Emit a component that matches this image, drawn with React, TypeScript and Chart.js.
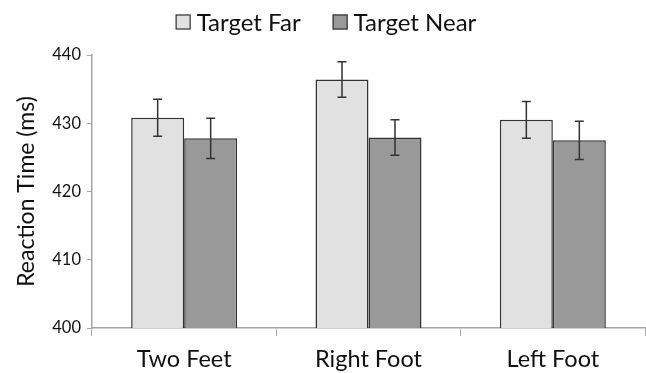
import React, { useEffect, useRef } from "react";
import { Chart, registerables } from "chart.js";

Chart.register(...registerables);

const categories = ["Two Feet", "Right Foot", "Left Foot"];
const seriesNames = ["Target Far", "Target Near"];
const farValues = [430.8, 436.4, 430.5];
const nearValues = [427.8, 427.9, 427.5];
const farErrors = [2.7, 2.6, 2.7];
const nearErrors = [2.95, 2.6, 2.8];
const yTicks = [400, 410, 420, 430, 440];
const seriesColors = ["#e1e1e1", "#999999"];

const FONT = "Lato, 'Open Sans', sans-serif";
const TEXT = "#111111";

const errorBarPlugin = {
  id: "errorBars",
  afterDatasetsDraw(chart: any) {
    const ctx = chart.ctx;
    const yScale = chart.scales.y;
    chart.data.datasets.forEach((ds: any, di: number) => {
      const meta = chart.getDatasetMeta(di);
      const errs: number[] = ds.errors || [];
      meta.data.forEach((bar: any, i: number) => {
        const v = ds.data[i];
        const e = errs[i];
        const x = bar.x;
        const yTop = yScale.getPixelForValue(v + e);
        const yBot = yScale.getPixelForValue(v - e);
        ctx.save();
        ctx.strokeStyle = "#333333";
        ctx.lineWidth = 1.5;
        ctx.beginPath();
        ctx.moveTo(x, yTop);
        ctx.lineTo(x, yBot);
        ctx.moveTo(x - 4.5, yTop);
        ctx.lineTo(x + 4.5, yTop);
        ctx.moveTo(x - 4.5, yBot);
        ctx.lineTo(x + 4.5, yBot);
        ctx.stroke();
        ctx.restore();
      });
    });
  },
};

const legendPlugin = {
  id: "customLegend",
  afterDraw(chart: any) {
    const ctx = chart.ctx;
    ctx.save();
    ctx.font = `24px ${FONT}`;
    const box = 15;
    const gapBoxText = 6;
    const gapItems = 32;
    const widths = seriesNames.map((n) => ctx.measureText(n).width);
    const total =
      widths.reduce((a, b) => a + b, 0) + seriesNames.length * (box + gapBoxText) + gapItems * (seriesNames.length - 1);
    let x = chart.width / 2 + 3 - total / 2;
    const cy = 22;
    seriesNames.forEach((name, i) => {
      ctx.fillStyle = seriesColors[i];
      ctx.fillRect(x, cy - box / 2, box, box);
      ctx.strokeStyle = "#333333";
      ctx.lineWidth = 1.2;
      ctx.strokeRect(x + 0.5, cy - box / 2 + 0.5, box - 1, box - 1);
      ctx.fillStyle = TEXT;
      ctx.textBaseline = "middle";
      ctx.textAlign = "left";
      ctx.fillText(name, x + box + gapBoxText, cy + 1);
      x += box + gapBoxText + widths[i] + gapItems;
    });
    ctx.restore();
  },
};

export default function App() {
  const ref = useRef<HTMLCanvasElement>(null);
  useEffect(() => {
    if (!ref.current) return;
    const chart = new Chart(ref.current, {
      type: "bar",
      data: {
        labels: categories,
        datasets: [
          {
            label: seriesNames[0],
            data: farValues,
            errors: farErrors,
            backgroundColor: seriesColors[0],
            borderColor: "#333333",
            borderWidth: 1.5,
            barPercentage: 1,
            categoryPercentage: 0.575,
          } as any,
          {
            label: seriesNames[1],
            data: nearValues,
            errors: nearErrors,
            backgroundColor: seriesColors[1],
            borderColor: "#333333",
            borderWidth: 1.5,
            barPercentage: 1,
            categoryPercentage: 0.575,
          } as any,
        ],
      },
      options: {
        animation: false,
        responsive: false,
        maintainAspectRatio: false,
        layout: { padding: { left: 0, right: 1, top: 55, bottom: 0 } },
        plugins: {
          legend: { display: false },
          tooltip: { enabled: false },
        },
        scales: {
          x: {
            grid: {
              offset: true,
              drawOnChartArea: false,
              tickLength: 8,
              color: "#a6a6a6",
            },
            border: { color: "#a6a6a6", width: 1.5 },
            ticks: {
              font: { family: FONT, size: 23.5 },
              color: TEXT,
              padding: 9,
            },
            afterFit(scale: any) {
              scale.height = 45;
            },
          },
          y: {
            min: 400,
            max: 440,
            afterBuildTicks(scale: any) {
              scale.ticks = yTicks.map((v) => ({ value: v }));
            },
            grid: {
              drawOnChartArea: false,
              tickLength: 5,
              color: "#a6a6a6",
            },
            border: { color: "#a6a6a6", width: 1.5 },
            ticks: {
              font: { family: FONT, size: 16.5 },
              color: TEXT,
              padding: 6,
            },
            title: {
              display: true,
              text: "Reaction Time (ms)",
              font: { family: FONT, size: 23 },
              color: TEXT,
              padding: { top: 13, bottom: 0 },
            },
            afterFit(scale: any) {
              scale.width = 92;
            },
          },
        },
      },
      plugins: [errorBarPlugin, legendPlugin],
    });
    return () => chart.destroy();
  }, []);
  return (
    <div style={{ position: "fixed", left: 0, top: 0, width: 646, height: 373, background: "#fff" }}>
      <canvas ref={ref} width={646} height={373} style={{ width: 646, height: 373 }} />
    </div>
  );
}
